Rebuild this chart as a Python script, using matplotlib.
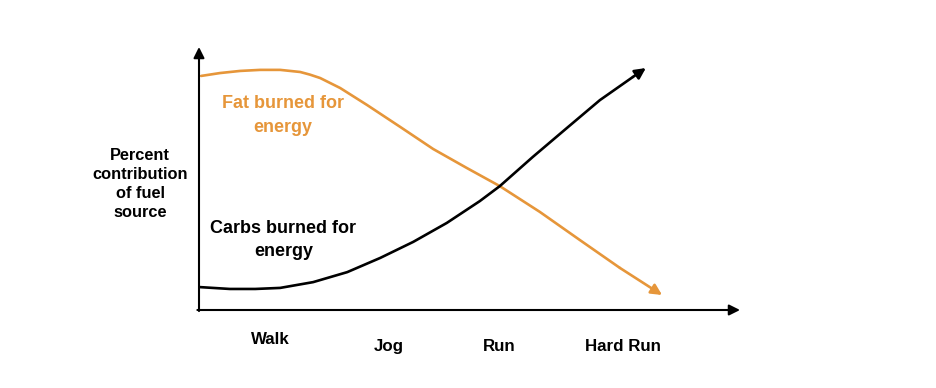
import matplotlib.pyplot as plt
import matplotlib.transforms as mtransforms

plt.rcParams['font.family'] = ['Liberation Sans', 'DejaVu Sans']

# intensity axis (0-100) and percent contribution (0-100)
fat_x = [0.4, 3.9, 7.6, 11.3, 15.0, 18.7, 20.5, 22.4, 26.1, 31.1, 37.2, 43.3, 49.5, 55.6, 63.0, 70.4, 77.8, 85.6]
fat_y = [89.0, 90.1, 90.9, 91.3, 91.3, 90.5, 89.5, 88.2, 84.4, 77.9, 69.6, 61.2, 54.0, 47.1, 37.3, 26.6, 16.0, 5.7]
carb_x = [0.2, 5.7, 10.4, 15.0, 21.1, 27.4, 33.5, 39.6, 45.8, 51.9, 55.6, 61.7, 68.0, 74.1, 80.2, 82.6]
carb_y = [8.7, 8.0, 8.0, 8.4, 10.6, 14.4, 19.8, 25.9, 33.1, 41.4, 47.1, 58.2, 69.2, 79.8, 88.6, 92.0]

level_pos = [13.1, 35.1, 55.5, 78.4]
level_labels = ['Walk', 'Jog', 'Run', 'Hard Run']

orange = '#E6963A'

fig = plt.figure(figsize=(9.36, 3.88), dpi=100)
ax = fig.add_axes([199 / 936, 78 / 388, 541 / 936, 263 / 388])
ax.set_xlim(0, 100)
ax.set_ylim(0, 100)
for s in ax.spines.values():
    s.set_visible(False)
ax.set_yticks([])
ax.tick_params(axis='x', length=0, pad=16)
ax.set_xticks(level_pos)
ax.set_xticklabels(level_labels, fontsize=12.2, fontweight='bold')
for lab in ax.get_xticklabels():
    if lab.get_text() != 'Walk':
        lab.set_transform(lab.get_transform() + mtransforms.ScaledTranslation(0, -5 / 72, fig.dpi_scale_trans))

# axes arrows
ax.annotate('', xy=(0, 100), xytext=(0, -0.4), xycoords='data', annotation_clip=False,
            arrowprops=dict(arrowstyle='-|>', color='black', lw=1.5, mutation_scale=16, shrinkA=0, shrinkB=0))
ax.annotate('', xy=(100, 0), xytext=(-0.3, 0), xycoords='data', annotation_clip=False,
            arrowprops=dict(arrowstyle='-|>', color='black', lw=1.5, mutation_scale=16, shrinkA=0, shrinkB=0))

# curves
ax.plot(fat_x[:-1], fat_y[:-1], color=orange, lw=1.9, solid_capstyle='round', solid_joinstyle='round', clip_on=False)
ax.annotate('', xy=(fat_x[-1], fat_y[-1]), xytext=(fat_x[-2], fat_y[-2]),
            arrowprops=dict(arrowstyle='-|>', color=orange, lw=1.9, mutation_scale=16, shrinkA=0, shrinkB=0))
ax.plot(carb_x[:-1], carb_y[:-1], color='black', lw=1.9, solid_capstyle='round', solid_joinstyle='round', clip_on=False)
ax.annotate('', xy=(carb_x[-1], carb_y[-1]), xytext=(carb_x[-2], carb_y[-2]),
            arrowprops=dict(arrowstyle='-|>', color='black', lw=1.9, mutation_scale=16, shrinkA=0, shrinkB=0))

ax.text(15.5, 74.0, 'Fat burned for\nenergy', color=orange, fontsize=13, fontweight='bold',
        ha='center', va='center', linespacing=1.5)
ax.text(15.6, 26.6, 'Carbs burned for\nenergy', color='black', fontsize=13, fontweight='bold',
        ha='center', va='center', linespacing=1.45)
fig.text(140 / 936, 1 - 184 / 388, 'Percent\ncontribution\nof fuel\nsource', fontsize=11.8,
         fontweight='bold', ha='center', va='center', linespacing=1.32)

fig.savefig('out.png', dpi=100, facecolor='white')
